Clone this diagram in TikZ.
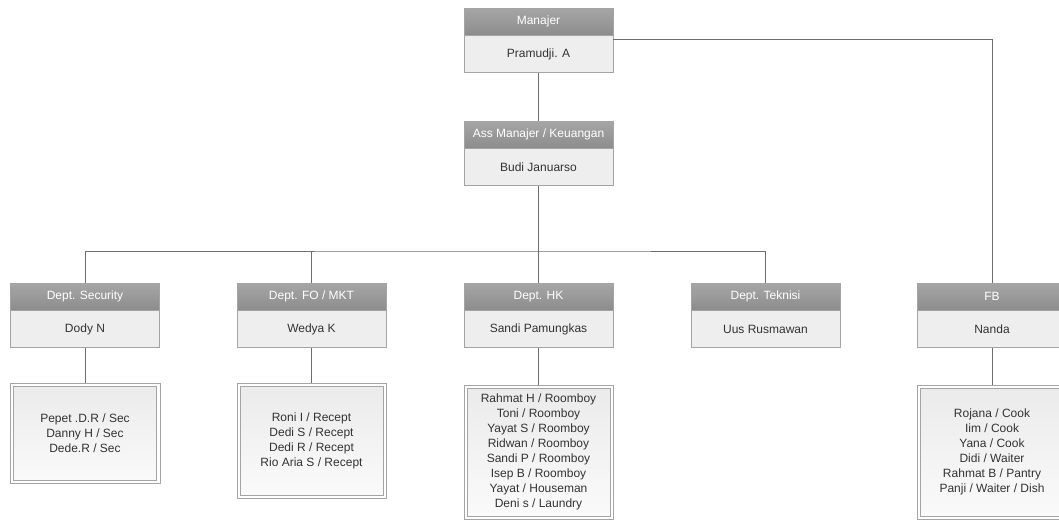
\documentclass[tikz,border=0pt]{standalone}
\usepackage{fontspec}
\setmainfont{Liberation Sans}
\begin{document}
\begin{tikzpicture}[x=1pt,y=-1pt,
  hdr/.style={draw=boxline, top color=hdtop, bottom color=hdbot, text=white,
    minimum width=149pt, minimum height=27pt, inner sep=0pt, anchor=north, font=\fontsize{12}{14}\selectfont},
  bdy/.style={draw=boxline, fill=bodyfill, text=txt, minimum width=149pt, minimum height=37pt,
    inner sep=0pt, anchor=north, font=\fontsize{12}{14}\selectfont},
  staff/.style={draw=boxline, top color=stafftop, bottom color=staffbot, text=txt,
    minimum width=143pt, inner sep=0pt, anchor=north, align=center,
    font=\fontsize{12}{15}\selectfont},
  outer/.style={draw=boxline},
  conn/.style={draw=lineclr, line width=0.8pt}
]
\definecolor{boxline}{HTML}{A4A4A4}
\definecolor{hdtop}{HTML}{A6A6A6}
\definecolor{hdbot}{HTML}{8C8C8C}
\definecolor{bodyfill}{HTML}{EEEEEE}
\definecolor{stafftop}{HTML}{EBEBEB}
\definecolor{staffbot}{HTML}{FAFAFA}
\definecolor{lineclr}{HTML}{6E6E6E}
\definecolor{txt}{HTML}{333333}
\useasboundingbox (0,0) rectangle (1059,520);
\clip (0,0) rectangle (1059,520);

% Manajer
\node[hdr] (mH) at (538.5,8) {Manajer};
\node[bdy] (m) at (mH.south) {Pramudji. A};
% Ass Manajer
\node[hdr] (aH) at (538.5,121) {Ass Manajer / Keuangan};
\node[bdy] (a) at (aH.south) {Budi Januarso};
% Departments
\node[hdr] (sH) at (85,283) {Dept. Security};
\node[bdy] (s) at (sH.south) {Dody N};
\node[hdr] (fH) at (311.5,283) {Dept. FO / MKT};
\node[bdy] (f) at (fH.south) {Wedya K};
\node[hdr] (hH) at (538.5,283) {Dept. HK};
\node[bdy] (h) at (hH.south) {Sandi Pamungkas};
\node[hdr] (tH) at (765.5,283) {Dept. Teknisi};
\node[bdy] (t) at (tH.south) {Uus Rusmawan};
\node[hdr] (bH) at (992,283) {FB};
\node[bdy] (b) at (bH.south) {Nanda};
% Staff (inner boxes)
\node[staff, minimum height=94pt] (sS) at (85,386) {Pepet .D.R / Sec\\Danny H / Sec\\Dede.R / Sec};
\node[staff, minimum height=109pt] (fS) at (311.5,386) {Roni I / Recept\\Dedi S / Recept\\Dedi R / Recept\\Rio Aria S / Recept};
\node[staff, minimum height=128pt] (hS) at (538.5,388) {Rahmat H / Roomboy\\Toni / Roomboy\\Yayat S / Roomboy\\Ridwan / Roomboy\\Sandi P / Roomboy\\Isep B / Roomboy\\Yayat / Houseman\\Deni s / Laundry};
\node[staff, minimum height=128pt] (bS) at (992,388) {Rojana / Cook\\Iim / Cook\\Yana / Cook\\Didi / Waiter\\Rahmat B / Pantry\\Panji / Waiter / Dish};
% Staff (outer frames)
\foreach \n in {sS,fS,hS,bS}
  \draw[outer] ([xshift=-3pt,yshift=3pt]\n.north west) rectangle ([xshift=3pt,yshift=-3pt]\n.south east);

% Connectors
\coordinate (bar) at (538.5,251);
\draw[conn] (m.south) -- (aH.north);
\draw[conn] (a.south) -- (bar);
\draw[conn] (sH.north) |- (bar) -| (tH.north);
\draw[conn] (fH.north) -- (fH.north |- bar);
\draw[conn] (hH.north) -- (hH.north |- bar);
\draw[conn] ([yshift=-4pt]m.north east) -| (bH.north);
\draw[conn] (s.south) -- ([yshift=3pt]sS.north);
\draw[conn] (f.south) -- ([yshift=3pt]fS.north);
\draw[conn] (h.south) -- ([yshift=3pt]hS.north);
\draw[conn] (b.south) -- ([yshift=3pt]bS.north);
\end{tikzpicture}
\end{document}
